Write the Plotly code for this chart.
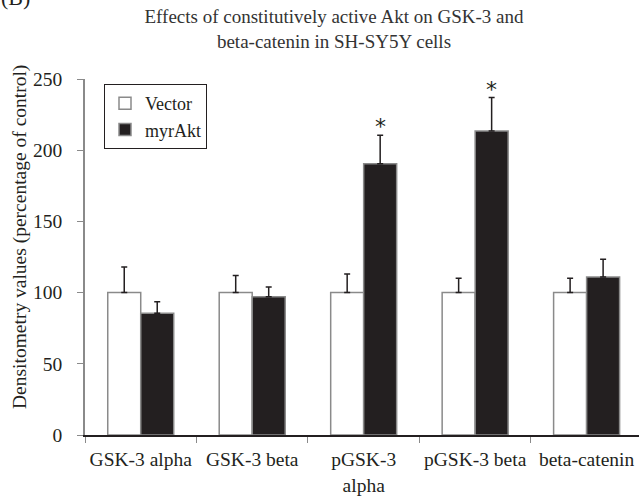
import plotly.graph_objects as go

categories = ["GSK-3 alpha", "GSK-3 beta", "pGSK-3<br>alpha", "pGSK-3 beta", "beta-catenin"]
vector_vals = [100, 100, 100, 100, 100]
vector_err = [18, 12, 13, 10, 10]
myr_vals = [85.5, 97, 190.5, 213.5, 111]
myr_err = [8, 7, 20, 23.5, 12.5]
significant = [False, False, True, True, False]
y_ticks = [0, 50, 100, 150, 200, 250]

FONT = "Liberation Serif"
INK = "#231f20"
GRAY = "#8a8a8a"

PL, PR, PT, PB = 85, 639, 79, 435
def px_x(x):
    return (x - PL) / (PR - PL)
def px_y(y):
    return (PB - y) / (PB - PT)

fig = go.Figure()
fig.add_trace(go.Bar(
    name="Vector", x=categories, y=vector_vals,
    marker=dict(color="white", line=dict(color=GRAY, width=1.5)),
    error_y=dict(type="data", array=vector_err, arrayminus=[0]*5, symmetric=False,
                 color=INK, thickness=1.5, width=3),
))
fig.add_trace(go.Bar(
    name="myrAkt", x=categories, y=myr_vals,
    marker=dict(color=INK, line=dict(color=GRAY, width=1.5)),
    error_y=dict(type="data", array=myr_err, arrayminus=[0]*5, symmetric=False,
                 color=INK, thickness=1.5, width=3),
))

annotations = []
bar_half = 0.148
for i, (v, e, s) in enumerate(zip(myr_vals, myr_err, significant)):
    if s:
        annotations.append(dict(x=i + bar_half, y=v + e, xref="x", yref="y",
                                text="*", showarrow=False, yanchor="bottom", yshift=-6,
                                font=dict(family="DejaVu Sans", size=22, color=INK)))

annotations.append(dict(x=px_x(20), y=px_y(237), xref="paper", yref="paper",
                        xanchor="center", yanchor="middle",
                        text="Densitometry values (percentage of control)",
                        showarrow=False, textangle=-90,
                        font=dict(family=FONT, size=19.5, color=INK)))
annotations.append(dict(x=px_x(-1), y=px_y(12), xref="paper", yref="paper", text="(B)",
                        showarrow=False, xanchor="left", yanchor="bottom",
                        font=dict(family=FONT, size=22, color=INK)))

fig.update_layout(
    width=639, height=499,
    margin=dict(l=PL, r=0, t=PT, b=499 - PB, pad=0),
    paper_bgcolor="white", plot_bgcolor="white",
    barmode="group", bargap=0.408, bargroupgap=0,
    font=dict(family=FONT, size=19.5, color=INK),
    title=dict(text="Effects of constitutively active Akt on GSK-3 and<br>beta-catenin in SH-SY5Y cells",
               x=px_x(334), xref="paper", xanchor="center", y=1 - 23 / 499, yanchor="middle",
               font=dict(family=FONT, size=19, color="#333333"), automargin=False),
    legend=dict(x=px_x(104), y=px_y(84), xanchor="left", yanchor="top",
                bordercolor=INK, borderwidth=1, bgcolor="white",
                font=dict(family=FONT, size=18, color=INK),
                itemwidth=30, tracegroupgap=0),
    showlegend=True,
    annotations=annotations,
    xaxis=dict(range=[-0.5, 4.47], tickson="boundaries", ticks="outside", ticklen=6,
               tickcolor=GRAY, showline=True, linecolor=INK, linewidth=1.5, tickangle=0,
               automargin=False,
               showgrid=False, zeroline=False, tickfont=dict(family=FONT, size=19.5, color=INK),
               ticklabelstandoff=6),
    yaxis=dict(range=[0, 250], tickvals=y_ticks, ticks="outside", ticklen=6, tickcolor=GRAY,
               showline=True, linecolor=GRAY, linewidth=1.5, showgrid=False, zeroline=False,
               automargin=False,
               tickfont=dict(family=FONT, size=19.5, color=INK), ticklabelstandoff=11),
)

fig.write_html("out.html")
